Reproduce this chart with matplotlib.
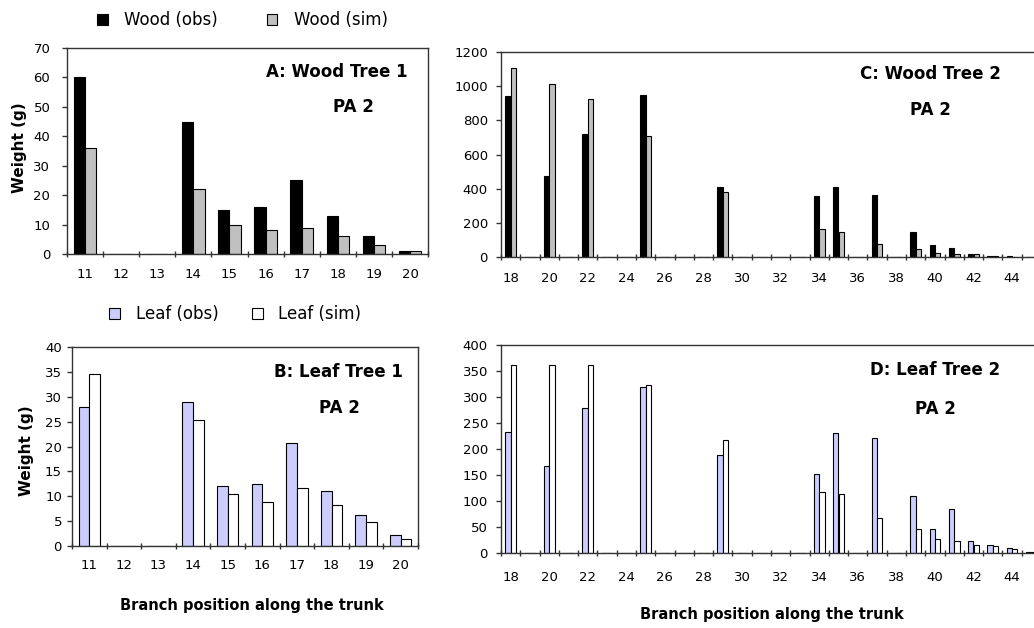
import numpy as np
import matplotlib.pyplot as plt

# tree 1 : branches 11..20
pos1 = [11, 12, 13, 14, 15, 16, 17, 18, 19, 20]
wood1_obs = [60, 0, 0, 45, 15, 16, 25, 13, 6, 1]
wood1_sim = [36, 0, 0, 22, 10, 8, 9, 6, 3, 1]
leaf1_obs = [28, 0, 0, 29, 12, 12.5, 20.7, 11, 6.2, 2.2]
leaf1_sim = [34.5, 0, 0, 25.3, 10.5, 8.8, 11.7, 8.2, 4.8, 1.4]

# tree 2 : branches 18..45
pos2 = list(range(18, 46))
wood2_obs = [940, 0, 474, 0, 720, 0, 0, 948, 0, 0, 0, 408, 0, 0, 0, 0,
             357, 408, 0, 365, 0, 146, 68, 53, 18, 8, 8, 0]
wood2_sim = [1108, 0, 1015, 0, 923, 0, 0, 710, 0, 0, 0, 380, 0, 0, 0, 0,
             162, 146, 0, 78, 0, 45, 25, 18, 18, 8, 2, 0]
leaf2_obs = [232, 0, 168, 0, 278, 0, 0, 320, 0, 0, 0, 188, 0, 0, 0, 0,
             152, 231, 0, 221, 0, 110, 46, 85, 24, 16, 10, 2]
leaf2_sim = [362, 0, 362, 0, 362, 0, 0, 323, 0, 0, 0, 218, 0, 0, 0, 0,
             118, 113, 0, 68, 0, 46, 27, 24, 16, 13, 8, 2]

W, H = 1034, 628
fig = plt.figure(figsize=(W / 100, H / 100), dpi=100)


def px_box(l, r, t, b):
    return [l / W, 1 - b / H, (r - l) / W, (b - t) / H]


def panel(rect, cats, obs, sim, c_obs, c_sim, ymax, ystep, width, every, xpad, ypad):
    ax = fig.add_axes(rect)
    x = np.arange(len(cats))
    b1 = ax.bar(x - width / 2, obs, width, color=c_obs, edgecolor='black', linewidth=0.8)
    b2 = ax.bar(x + width / 2, sim, width, color=c_sim, edgecolor='black', linewidth=0.8)
    ax.set_xlim(-0.5, len(cats) - 0.5)
    ax.set_ylim(0, ymax)
    ax.set_yticks(np.arange(0, ymax + 1, ystep))
    ax.set_xticks(np.arange(len(cats) + 1) - 0.5)
    ax.set_xticklabels([])
    ax.set_xticks(x[::every], [str(c) for c in cats[::every]], minor=True)
    ax.tick_params(axis='x', which='major', direction='inout', length=4.5, width=1, color='#333')
    ax.tick_params(axis='x', which='minor', length=0, pad=xpad, labelsize=9.5)
    ax.tick_params(axis='y', direction='out', length=3.6, width=1, color='#333',
                   pad=ypad, labelsize=9.5)
    for s in ax.spines.values():
        s.set_linewidth(1)
        s.set_color('#333')
    return ax, b1, b2


axA, a1, a2 = panel(px_box(67, 428, 48, 254), pos1, wood1_obs, wood1_sim,
                    'black', '#c0c0c0', 70, 10, 0.31, 1, 10, 8.4)
axB, l1, l2 = panel(px_box(72, 418, 347, 546), pos1, leaf1_obs, leaf1_sim,
                    '#ccccff', 'white', 40, 5, 0.31, 1, 9.4, 3.6)
axC, c1, c2 = panel(px_box(501, 1041, 52, 257), pos2, wood2_obs, wood2_sim,
                    'black', '#c0c0c0', 1200, 200, 0.28, 2, 10.8, 5.8)
axD, d1, d2 = panel(px_box(501, 1041, 345, 553), pos2, leaf2_obs, leaf2_sim,
                    '#ccccff', 'white', 400, 50, 0.28, 2, 13, 5.8)

axA.set_ylabel('Weight (g)', fontsize=11, fontweight='bold')
axA.yaxis.set_label_coords(27 / W, 1 - 148 / H, transform=fig.transFigure)
axB.set_ylabel('Weight (g)', fontsize=11, fontweight='bold')
axB.yaxis.set_label_coords(34 / W, 1 - 451 / H, transform=fig.transFigure)

axB.set_xlabel('Branch position along the trunk', fontsize=10.5, fontweight='bold')
axB.xaxis.set_label_coords(252 / W, 1 - 598 / H, transform=fig.transFigure)
axD.set_xlabel('Branch position along the trunk', fontsize=10.5, fontweight='bold')
axD.xaxis.set_label_coords(772 / W, 1 - 607 / H, transform=fig.transFigure)

# panel titles
notes = [('A: Wood Tree 1', 337, 72), ('PA 2', 353, 107),
         ('B: Leaf Tree 1', 338, 372), ('PA 2', 339, 408),
         ('C: Wood Tree 2', 930, 74), ('PA 2', 930, 110),
         ('D: Leaf Tree 2', 935, 370), ('PA 2', 935, 409)]
for txt, x, y in notes:
    fig.text(x / W, 1 - y / H, txt, ha='center', va='center', fontsize=12, fontweight='bold')

fig.legend([a1, a2], ['Wood (obs)', 'Wood (sim)'], loc='center left',
           bbox_to_anchor=(97 / W, 1 - 20 / H), ncol=2, frameon=False, fontsize=12,
           handlelength=0.65, handleheight=0.65, handletextpad=1.0, columnspacing=2.9,
           borderpad=0, borderaxespad=0)
fig.legend([l1, l2], ['Leaf (obs)', 'Leaf (sim)'], loc='center left',
           bbox_to_anchor=(109 / W, 1 - 314 / H), ncol=2, frameon=False, fontsize=12,
           handlelength=0.65, handleheight=0.65, handletextpad=0.95, columnspacing=2.0,
           borderpad=0, borderaxespad=0)

fig.savefig('out.png', dpi=100)
